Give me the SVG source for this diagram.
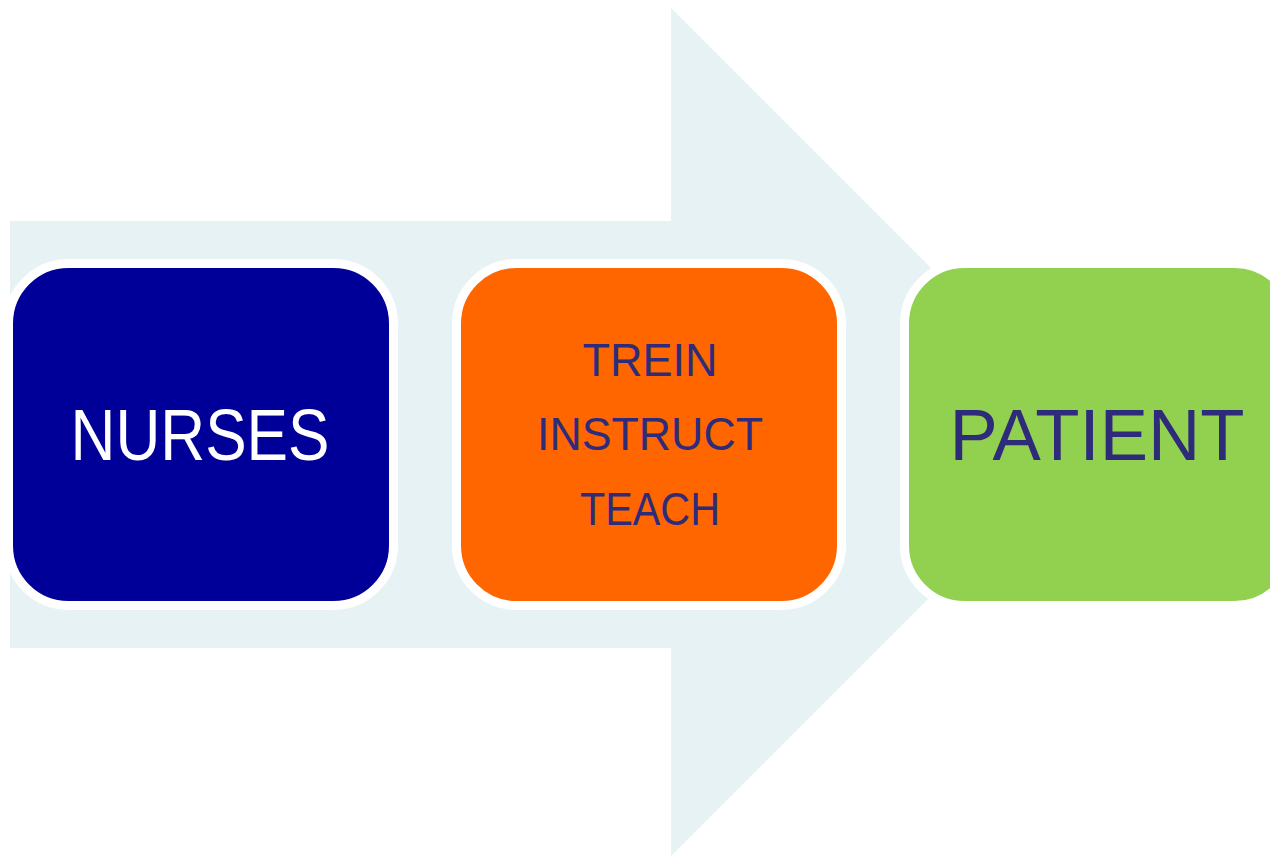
<svg xmlns="http://www.w3.org/2000/svg" width="1270" height="857" viewBox="0 0 1270 857">
<style>
.box{stroke:#ffffff;stroke-width:9}
.t{font-family:"Comic Sans MS","Liberation Sans",sans-serif;text-anchor:middle}
.dark{fill:#2e2c7a}
</style>
<rect width="1270" height="857" fill="#ffffff"/>
<g id="arrow">
<polygon points="10,221 671,221 671,8 1095,432 671,856 671,648 10,648" fill="#e6f2f4"/>
</g>
<g id="connectors"></g>
<g id="nurses">
<rect class="box" x="8.5" y="263.5" width="385" height="342" rx="60" fill="#000099"/>
<text class="t" x="200" y="460" font-size="72" fill="#ffffff" textLength="259" lengthAdjust="spacingAndGlyphs">NURSES</text>
</g>
<g id="teach">
<rect class="box" x="456.5" y="263.5" width="385" height="342" rx="60" fill="#ff6600"/>
<text class="t dark" x="650" y="376" font-size="46" textLength="135" lengthAdjust="spacingAndGlyphs">TREIN</text>
<text class="t dark" x="650" y="450" font-size="46" textLength="226" lengthAdjust="spacingAndGlyphs">INSTRUCT</text>
<text class="t dark" x="650" y="525" font-size="46" textLength="140" lengthAdjust="spacingAndGlyphs">TEACH</text>
</g>
<g id="patient">
<rect class="box" x="904.5" y="263.5" width="390" height="342" rx="60" fill="#92d050"/>
<text class="t dark" x="1097" y="460" font-size="72" textLength="295" lengthAdjust="spacingAndGlyphs">PATIENT</text>
</g>
</svg>
